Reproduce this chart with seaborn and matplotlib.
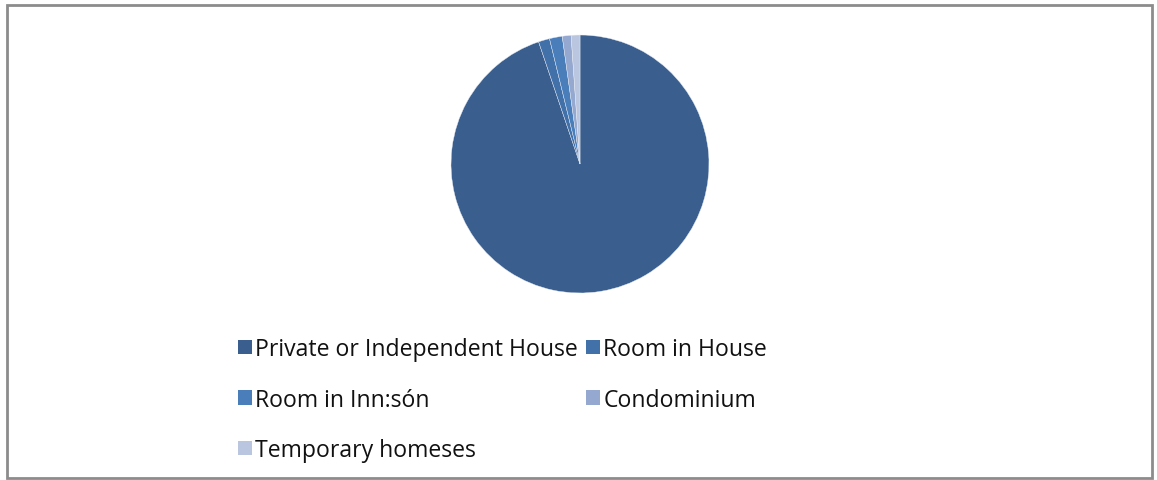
import matplotlib
matplotlib.use("Agg")
import matplotlib.pyplot as plt
from matplotlib.patches import Rectangle
import seaborn as sns

# Housing types and their share (%)
categories = [
    "Private or Independent House",
    "Room in House",
    "Room in Inn:són",
    "Condominium",
    "Temporary homeses",
]
shares = [94.8, 1.4, 1.6, 1.1, 1.1]
colors = ["#3A5F8F", "#4270A8", "#4A7EBB", "#95A8D0", "#BAC6E0"]

sns.set_theme(style="white")
plt.rcParams["font.family"] = ["Open Sans", "DejaVu Sans"]

W, H = 1157, 481
fig = plt.figure(figsize=(W / 100, H / 100), dpi=100)
fig.patch.set_facecolor("white")

# Outer frame
fig.add_artist(Rectangle((7 / W, 2 / H), 1145 / W, 473 / H,
                         transform=fig.transFigure, fill=False,
                         edgecolor="#8C8C8C", linewidth=2))

# Pie: centre (580, 165) px, radius ~129 px
cx, cy, r = 580, 165, 129
ax = fig.add_axes([(cx - r) / W, (H - cy - r) / H, 2 * r / W, 2 * r / H])
wedges, _ = ax.pie(shares, colors=colors, startangle=90, counterclock=False,
                   wedgeprops=dict(edgecolor="#E8ECF4", linewidth=0.3))
ax.set_xlim(-1, 1)
ax.set_ylim(-1, 1)
ax.set_aspect("equal")
ax.axis("off")

# Legend filled column-wise: left column gets entries 0, 2, 4
order = [0, 2, 4, 1, 3]
leg = fig.legend([wedges[i] for i in order], [categories[i] for i in order],
                 ncol=2, loc="upper left",
                 bbox_to_anchor=(238 / W, 1 - 338 / H),
                 frameon=False, fontsize=16.6,
                 handlelength=0.6, handleheight=0.6, handletextpad=0.15,
                 columnspacing=0.35, labelspacing=1.15, borderpad=0,
                 borderaxespad=0)
for h in leg.legend_handles:
    h.set_edgecolor("none")
for t in leg.get_texts():
    t.set_color("#111111")

fig.savefig("out.png", dpi=100, facecolor="white")
